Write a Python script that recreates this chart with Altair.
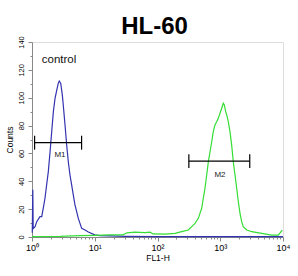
import altair as alt
import pandas as pd

# ---- data ----
blue_x = [1.01, 1.03, 1.045, 1.12, 1.19, 1.34, 1.43, 1.51, 1.61, 1.71, 1.82, 1.94, 2.06, 2.19,
          2.33, 2.48, 2.62, 2.72, 2.87, 3.04, 3.15, 3.36, 3.57, 3.79, 4.03, 4.29, 4.55, 4.84,
          5.15, 5.47, 5.82, 6.19, 7.0, 7.9, 10, 12, 17, 30, 100, 1000, 10000]
blue_y = [3, 34, 6, 7.4, 11, 14.6, 14.6, 20.6, 27.8, 37.3, 46.9, 61.2, 75.6, 90,
          99.6, 105.5, 110.3, 112, 110.3, 102, 94.8, 80.4, 66, 54, 44.5, 37.3, 30.2, 23,
          18.2, 13.4, 9.8, 6.2, 5, 3.6, 1.5, 1, 0.8, 0.5, 0.3, 0.3, 0.3]

green_x = [1.0, 2.8, 5.8, 10, 17.5, 28, 32.7, 43.6, 63, 76, 85, 132, 190, 243, 310, 351, 396,
           447, 475, 506, 537, 571, 608, 646, 687, 731, 774, 824, 877, 931, 991, 1054, 1119,
           1161, 1222, 1268, 1343, 1429, 1521, 1614, 1718, 1828, 1941, 2065, 2198, 2328,
           2642, 3170, 4581, 6607, 8414, 9750]
green_y = [0.3, 0.5, 1, 1.2, 1.5, 1.5, 3, 3.5, 3.2, 3.5, 2.2, 2, 2.6, 3.8, 5, 7.4, 9.8,
           13.4, 17, 20.6, 27.8, 35, 44.5, 54, 61.2, 68.4, 75.6, 80.4, 82.8, 85.2, 88.8, 92.4, 96,
           94.8, 90, 87.6, 82.8, 75.6, 66, 54, 44.5, 35, 25.3, 17, 11,
           7.4, 5, 3.8, 2.6, 1.4, 1.4, 5]

marker_names = ["M1", "M2"]
marker_start = [1.10, 316]
marker_end = [6.17, 2951]
marker_level = [67.7, 54.5]
marker_cap_low = [62.7, 49.5]
marker_cap_high = [72.7, 59.5]
marker_label_x = [2.79, 991]
marker_label_y = [58.9, 44.5]

x_major = [1, 10, 100, 1000, 10000]
x_major_labels = ["10⁰", "10¹", "10²", "10³", "10⁴"]
x_minor = [m * d for d in [1, 10, 100, 1000] for m in [2, 3, 4, 5, 6, 7, 8, 9]]
y_major = [0, 20, 40, 60, 80, 100, 120, 140]
y_minor = [10, 30, 50, 70, 90, 110, 130]

FONT = "Liberation Sans"

lines = pd.concat([
    pd.DataFrame({"x": blue_x, "y": blue_y, "s": "control"}),
    pd.DataFrame({"x": green_x, "y": green_y, "s": "sample"}),
])
markers = pd.DataFrame({
    "name": marker_names, "x1": marker_start, "x2": marker_end, "y": marker_level,
    "ylo": marker_cap_low, "yhi": marker_cap_high,
    "lx": marker_label_x, "ly": marker_label_y,
})
caps = pd.concat([
    pd.DataFrame({"cx": marker_start, "ylo": marker_cap_low, "yhi": marker_cap_high}),
    pd.DataFrame({"cx": marker_end, "ylo": marker_cap_low, "yhi": marker_cap_high}),
])

xs = alt.Scale(type="log", domain=[1, 10000], nice=False)
ys = alt.Scale(domain=[0, 140], nice=False, zero=False)

label_map = ", ".join(f"{v}: '{t}'" for v, t in zip(x_major, x_major_labels))
label_expr = "{" + label_map + "}[datum.value]"

x_axis = alt.Axis(values=x_major, labelExpr=label_expr, title="FL1-H", orient="bottom",
                  tickSize=4, labelPadding=2, labelFontSize=9, titleFontSize=8.5,
                  titleFontWeight="normal", titlePadding=1, grid=False, labelFlush=False,
                  labelBaseline="top")
y_axis = alt.Axis(values=y_major, title="Counts", orient="left", tickSize=4,
                  labelAngle=270, labelAlign="center", labelBaseline="bottom",
                  labelPadding=3, labelFontSize=7.5, titleFontSize=8.5,
                  titleFontWeight="normal", titlePadding=3, grid=False, labelFlush=False)

line_layer = alt.Chart(lines).mark_line(strokeWidth=1.2).encode(
    x=alt.X("x:Q", scale=xs, axis=x_axis),
    y=alt.Y("y:Q", scale=ys, axis=y_axis),
    color=alt.Color("s:N", scale=alt.Scale(domain=["control", "sample"],
                                          range=["#3333b0", "#33dd33"]), legend=None),
)

hbar = alt.Chart(markers).mark_rule(color="black", strokeWidth=1.2).encode(
    x=alt.X("x1:Q", scale=xs, axis=None), x2="x2:Q", y=alt.Y("y:Q", scale=ys, axis=None))
cap_layer = alt.Chart(caps).mark_rule(color="black", strokeWidth=1.2).encode(
    x=alt.X("cx:Q", scale=xs, axis=None), y=alt.Y("ylo:Q", scale=ys, axis=None), y2="yhi:Q")

minor_x_axis = alt.Axis(values=x_minor, labels=False, domain=False, tickSize=2,
                        orient="bottom", title=None, grid=False)
minor_y_axis = alt.Axis(values=y_minor, labels=False, domain=False, tickSize=2,
                        orient="left", title=None, grid=False)
mlabels = alt.Chart(markers).mark_text(font=FONT, fontSize=8, color="#222222",
                                        baseline="middle", align="center").encode(
    x=alt.X("lx:Q", scale=xs, axis=minor_x_axis),
    y=alt.Y("ly:Q", scale=ys, axis=minor_y_axis),
    text="name:N")

ctrl = alt.Chart(pd.DataFrame({"x": [1.43], "y": [125], "t": ["control"]})).mark_text(
    font=FONT, fontSize=11.5, align="left", baseline="alphabetic", color="#111111").encode(
    x=alt.X("x:Q", scale=xs, axis=None), y=alt.Y("y:Q", scale=ys, axis=None), text="t:N")

chart = alt.layer(line_layer, hbar, cap_layer, ctrl, mlabels).resolve_axis(
    x="independent", y="independent"
).properties(
    width=251, height=195,
    title=alt.TitleParams("HL-60", fontSize=24, fontWeight="bold", font=FONT,
                          anchor="middle", dx=-3, dy=13, offset=10, color="black"),
    autosize=alt.AutoSizeParams(type="none"),
    padding={"left": 32, "top": 42, "right": 15, "bottom": 39},
).configure_view(stroke="black", strokeWidth=1).configure_axis(
    domainColor="black", tickColor="black", labelColor="#111111", titleColor="#111111",
    labelFont=FONT, titleFont=FONT
).configure(background="white")

chart.save("out.html", embed_options={"renderer": "svg", "actions": False})
